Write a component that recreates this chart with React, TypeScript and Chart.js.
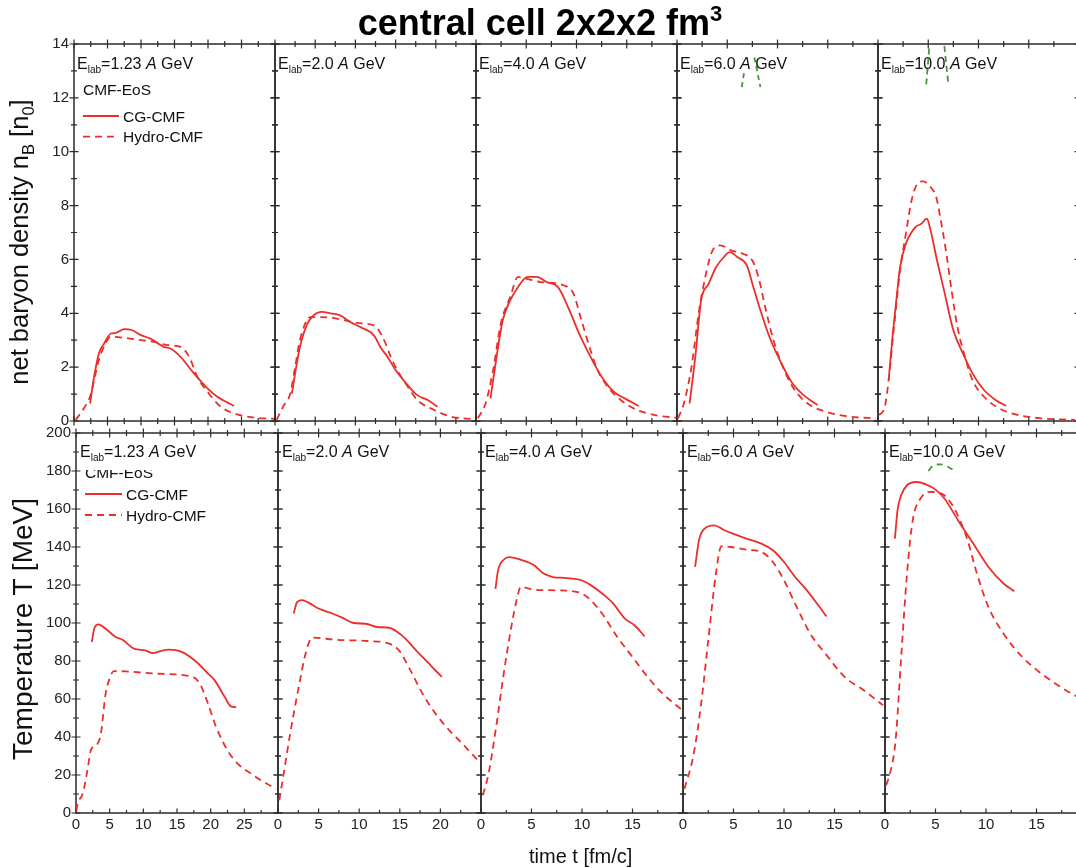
import React, { useEffect, useRef } from 'react';
import { Chart, registerables } from 'chart.js';

Chart.register(...registerables);

type Pt = [number, number];

const FONT = "'Liberation Sans', Arial, Helvetica, sans-serif";
const RED = 'rgb(236, 46, 42)';
const GREEN = 'rgb(70, 150, 60)';
const AXIS = '#2b2b2b';

// ---------- data ----------
const ENERGIES = ['1.23', '2.0', '4.0', '6.0', '10.0'];
const X_MAX = [30, 25, 20, 20, 20];
const X_MAJOR = [
  [0, 5, 10, 15, 20, 25],
  [0, 5, 10, 15, 20],
  [0, 5, 10, 15],
  [0, 5, 10, 15],
  [0, 5, 10, 15],
];
const X_MINOR = [
  [2.5, 7.5, 12.5, 17.5, 22.5, 27.5],
  [2.5, 7.5, 12.5, 17.5, 22.5],
  [2.5, 7.5, 12.5, 17.5],
  [2.5, 7.5, 12.5, 17.5],
  [2.5, 7.5, 12.5, 17.5],
];
const NB_MAX = 14;
const NB_MAJOR = [0, 2, 4, 6, 8, 10, 12, 14];
const NB_MINOR = [1, 3, 5, 7, 9, 11, 13];
const T_MAX = 200;
const T_MAJOR = [0, 20, 40, 60, 80, 100, 120, 140, 160, 180, 200];
const T_MINOR = [10, 30, 50, 70, 90, 110, 130, 150, 170, 190];

// net baryon density (n_B / n_0), CG-CMF (solid) and Hydro-CMF (dashed)
const NB_CG_123: Pt[] = [[2.4, 0.65], [3.0, 1.64], [3.7, 2.5], [4.5, 2.88], [5.5, 3.25], [6.2, 3.27], [7.5, 3.41], [8.7, 3.37], [10, 3.19], [11.4, 3.06], [13.4, 2.75], [14.4, 2.69], [15.9, 2.38], [17.9, 1.77], [19.7, 1.27], [21.4, 0.9], [23.9, 0.56]];
const NB_HY_123: Pt[] = [[0.25, 0.04], [1.5, 0.48], [2.4, 0.91], [3.0, 1.52], [3.7, 2.26], [4.7, 2.88], [5.5, 3.13], [7.5, 3.09], [10, 3.0], [11.9, 2.94], [13.9, 2.82], [15.9, 2.75], [17.2, 2.38], [18.4, 1.64], [19.9, 1.09], [21.9, 0.53], [23.9, 0.28], [26.4, 0.14], [29.9, 0.08]];
const NB_CG_20: Pt[] = [[2.1, 1.02], [2.5, 1.76], [3.1, 2.75], [4.0, 3.6], [4.8, 3.92], [5.8, 4.05], [6.9, 4.0], [8.1, 3.92], [9.4, 3.67], [10.6, 3.49], [12.3, 3.18], [13.1, 2.75], [14.0, 2.38], [15, 1.89], [16.5, 1.33], [17.7, 0.96], [19, 0.78], [20.2, 0.53]];
const NB_HY_20: Pt[] = [[0.2, 0.04], [1.0, 0.53], [1.9, 1.02], [2.5, 2.0], [3.1, 3.0], [4.4, 3.86], [5.6, 3.86], [7.7, 3.8], [10.2, 3.64], [12.3, 3.55], [12.9, 3.37], [13.75, 2.88], [14.4, 2.38], [15.2, 1.89], [16.5, 1.28], [17.7, 0.78], [19.8, 0.41], [21.9, 0.16], [24.8, 0.07]];
const NB_CG_40: Pt[] = [[1.44, 0.84], [1.9, 2.01], [2.66, 3.74], [3.4, 4.48], [4.17, 4.97], [5.12, 5.35], [6.07, 5.35], [7.0, 5.16], [8.16, 4.97], [9.3, 4.11], [10.25, 3.25], [11.4, 2.38], [12.5, 1.64], [13.7, 1.09], [14.8, 0.84], [16.2, 0.56]];
const NB_HY_40: Pt[] = [[0.19, 0.1], [0.95, 0.65], [1.7, 1.89], [2.47, 3.62], [3.4, 4.6], [4.17, 5.35], [4.93, 5.29], [6.45, 5.16], [8.7, 5.04], [9.7, 4.73], [10.4, 3.86], [11.4, 2.62], [12.1, 1.89], [13.1, 1.27], [14.4, 0.78], [15.9, 0.43], [17.8, 0.22], [20, 0.12]];
const NB_CG_60: Pt[] = [[1.25, 0.65], [1.82, 2.38], [2.4, 4.48], [3.15, 5.1], [3.9, 5.72], [4.67, 6.09], [5.24, 6.27], [6.0, 6.09], [6.95, 5.78], [7.5, 5.1], [8.3, 4.11], [9.2, 3.12], [10.4, 2.13], [11.5, 1.39], [12.6, 0.96], [14.0, 0.59]];
const NB_HY_60: Pt[] = [[0.1, 0.1], [0.68, 0.65], [1.44, 2.0], [2.2, 4.11], [2.96, 5.59], [3.53, 6.33], [4.3, 6.52], [5.43, 6.33], [6.57, 6.21], [7.5, 5.96], [8.1, 5.35], [8.85, 4.11], [9.6, 3.0], [10.4, 2.13], [11.5, 1.27], [13, 0.65], [14.9, 0.34], [17.2, 0.16], [19.8, 0.1]];
const NB_CG_100: Pt[] = [[1.06, 1.52], [1.44, 3.12], [1.82, 4.48], [2.2, 5.72], [2.77, 6.58], [3.72, 7.2], [4.29, 7.32], [4.86, 7.51], [5.24, 7.07], [5.8, 6.09], [6.57, 4.85], [7.5, 3.37], [8.46, 2.5], [9.4, 1.77], [10.55, 1.15], [11.7, 0.78], [12.75, 0.56]];
const NB_HY_100: Pt[] = [[0.1, 0.22], [0.68, 0.53], [1.06, 1.52], [1.63, 3.62], [2.2, 5.6], [2.77, 6.95], [3.34, 8.19], [3.9, 8.8], [4.48, 8.9], [5.24, 8.68], [5.8, 8.31], [6.19, 7.57], [6.76, 6.33], [7.32, 4.85], [7.9, 3.5], [8.65, 2.38], [9.4, 1.52], [10.55, 0.9], [12.07, 0.47], [13.97, 0.22], [16.2, 0.1], [19.6, 0.04]];
// partly hidden green curves
const NB_GR_60A: Pt[] = [[6.45, 12.4], [6.7, 13.0]];
const NB_GR_60B: Pt[] = [[7.7, 13.5], [8.3, 12.4]];
const NB_GR_100A: Pt[] = [[4.8, 12.5], [5.2, 14.3]];
const NB_GR_100B: Pt[] = [[6.5, 14.3], [7.0, 12.5]];

// temperature (MeV)
const T_CG_123: Pt[] = [[2.35, 90], [2.7, 97], [3.33, 99.3], [4.4, 97], [5.9, 92.6], [6.9, 91.2], [8.6, 86.5], [10.3, 85.6], [11.3, 84.2], [12.7, 85.3], [13.7, 86], [15.7, 84.8], [17.9, 79.5], [19.6, 73.4], [20.6, 69.8], [22.1, 61], [23.0, 56.1], [23.8, 55.7]];
const T_HY_123: Pt[] = [[0.05, 1], [0.25, 4.9], [1.0, 10.2], [1.7, 22.5], [2.2, 33], [3.2, 36.5], [3.7, 41.8], [4.4, 62.8], [4.9, 69.8], [5.6, 74.7], [7.35, 74.5], [12.3, 73.3], [17.4, 71.6], [18.4, 68], [19.6, 57.6], [20.8, 45.3], [22.5, 33], [24, 26], [26, 20.7], [27.9, 16.3], [29.7, 12.8]];
const T_CG_20: Pt[] = [[1.93, 105], [2.35, 111], [2.96, 112], [3.8, 110.6], [5.0, 107.6], [6.7, 105], [7.9, 102.8], [9.3, 100], [10.8, 99.6], [12.2, 97.9], [13.7, 97.5], [14.7, 95.3], [15.7, 91.8], [17.0, 85.6], [18.4, 79.5], [19.4, 75], [20.2, 71.6]];
const T_HY_20: Pt[] = [[0.16, 6.7], [0.7, 20.7], [1.5, 41.8], [2.55, 66.3], [3.4, 83.9], [4.2, 92.3], [7.1, 91.2], [11.2, 90.5], [13.7, 89.1], [14.9, 85.6], [16.1, 76.8], [17.8, 62.8], [19.4, 52.3], [21.1, 43.5], [22.7, 36.5], [24.8, 26.8]];
const T_CG_40: Pt[] = [[1.43, 118], [1.69, 127.7], [2.25, 133.3], [2.8, 134.7], [4.1, 133], [5.25, 130.4], [6.2, 126], [7.1, 124.2], [8.25, 123.7], [9.94, 122.5], [10.9, 119.8], [12.0, 115.5], [13.1, 110.2], [14.25, 102.3], [15.2, 98.8], [16.2, 93]];
const T_HY_40: Pt[] = [[0.19, 9.3], [0.75, 20.7], [1.5, 45.3], [2.25, 73.4], [3.0, 97.9], [3.56, 112.8], [3.94, 119], [5.25, 117.5], [7.5, 117.2], [9.56, 116.3], [10.5, 113.7], [12.0, 104.9], [13.5, 92.6], [15.0, 82.1], [16.5, 71.6], [18.0, 62.8], [19.95, 54]];
const T_CG_60: Pt[] = [[1.2, 129.5], [1.58, 143.5], [2.14, 149.7], [3.08, 151.4], [4.0, 149.1], [4.95, 147], [6.26, 144.4], [7.76, 141.8], [8.9, 138.3], [10.0, 132.1], [11.1, 124.2], [12.27, 117.2], [13.4, 109.3], [14.2, 103.5]];
const T_HY_60: Pt[] = [[0.15, 12.8], [1.0, 29.5], [1.76, 55.8], [2.5, 90.9], [3.26, 126], [3.8, 140.4], [4.76, 140], [6.26, 138.6], [7.76, 137.4], [8.9, 132.1], [10.0, 122.5], [11.1, 110.2], [12.6, 94.4], [14.1, 83.9], [16.0, 71.6], [17.9, 64.6], [19.8, 56.7]];
const T_CG_100: Pt[] = [[0.98, 144.4], [1.24, 159.3], [1.6, 167.2], [2.18, 172.5], [3.1, 174.2], [4.05, 173], [5.0, 170.2], [5.9, 165.4], [7.24, 154], [8.74, 141.8], [10.24, 129.5], [11.74, 120.8], [12.8, 116.7]];
const T_HY_100: Pt[] = [[0.11, 14.6], [0.49, 20.7], [1.05, 38.3], [1.6, 82.1], [2.18, 126], [2.74, 154], [3.5, 165.4], [4.43, 169], [5.74, 167.7], [6.68, 162], [7.43, 154], [8.18, 143.5], [9.1, 126], [10.24, 108.4], [11.74, 94.4], [13.6, 82.1], [15.5, 73.3], [17.4, 66.3], [18.8, 61.9], [20, 59]];
const T_GR_100: Pt[] = [[4.3, 180], [4.8, 183], [5.5, 183.5], [6.3, 182], [6.9, 180]];

// ---------- layout ----------
const TOP_LEFTS = [74, 275, 476, 677, 878];
const TOP_WIDTHS = [201, 201, 201, 201, 201];
const TOP_Y = 44;
const TOP_H = 377;
const BOT_LEFTS = [76, 278, 481, 683, 885];
const BOT_WIDTHS = [202, 203, 202, 202, 202];
const BOT_Y = 433;
const BOT_H = 380;

const M = 14;
const Y_AXIS_W = 50;
const X_AXIS_H = 26;
const DASH = [7, 5];

interface SeriesDef { pts: Pt[]; color: string; dash?: number[] }
interface PanelProps {
  left: number; top: number; width: number; height: number;
  firstCol: boolean; bottomRow: boolean;
  xMax: number; xMajor: number[]; xMinor: number[];
  yMax: number; yMajor: number[]; yMinor: number[];
  series: SeriesDef[];
}

function Panel(p: PanelProps) {
  const ref = useRef<HTMLCanvasElement>(null);
  const padL = p.firstCol ? Y_AXIS_W : M;
  const padB = p.bottomRow ? X_AXIS_H : M;
  const cw = p.width + padL + M;
  const ch = p.height + M + padB;

  useEffect(() => {
    const canvas = ref.current;
    if (!canvas) return;
    const framePlugin = {
      id: 'frame',
      beforeDatasetsDraw(chart: any) {
        const { ctx, chartArea: a, scales } = chart;
        const xs = scales.x;
        const ys = scales.y;
        ctx.save();
        ctx.strokeStyle = AXIS;
        ctx.lineWidth = 1.5;
        ctx.strokeRect(a.left, a.top, a.right - a.left, a.bottom - a.top);
        ctx.lineWidth = 1.2;
        ctx.beginPath();
        const xt = (vals: number[], len: number) => vals.forEach((v) => {
          const px = xs.getPixelForValue(v);
          ctx.moveTo(px, a.top - len); ctx.lineTo(px, a.top + len);
          ctx.moveTo(px, a.bottom - len); ctx.lineTo(px, p.bottomRow ? a.bottom : a.bottom + len);
        });
        const yt = (vals: number[], len: number) => vals.forEach((v) => {
          const py = ys.getPixelForValue(v);
          ctx.moveTo(a.left - len, py); ctx.lineTo(a.left + len, py);
          ctx.moveTo(a.right - len, py); ctx.lineTo(a.right + len, py);
        });
        xt(p.xMajor, 4.5); xt(p.xMinor, 3);
        yt(p.yMajor, 4.5); yt(p.yMinor, 3);
        ctx.stroke();
        ctx.restore();
      },
    };
    const tickFont = { family: FONT, size: 15 };
    const chart = new Chart(canvas, {
      type: 'line',
      data: {
        datasets: p.series.map((s) => ({
          data: s.pts.map(([x, y]) => ({ x, y })),
          borderColor: s.color,
          borderWidth: 1.8,
          borderDash: s.dash || [],
          pointRadius: 0,
          fill: false,
          cubicInterpolationMode: 'monotone' as const,
        })),
      },
      options: {
        animation: false,
        responsive: false,
        maintainAspectRatio: false,
        events: [],
        layout: { padding: { left: p.firstCol ? 0 : M, right: M, top: M, bottom: p.bottomRow ? 0 : M } },
        plugins: { legend: { display: false }, tooltip: { enabled: false } },
        scales: {
          x: {
            type: 'linear', min: 0, max: p.xMax, display: p.bottomRow,
            grid: { display: false, drawTicks: false },
            border: { display: false },
            ticks: { font: tickFont, color: '#222', padding: 3, maxRotation: 0, autoSkip: false, callback: (v: any) => String(v) },
            afterBuildTicks: (s: any) => { s.ticks = p.xMajor.map((v) => ({ value: v })); },
            afterFit: (s: any) => { s.height = p.bottomRow ? X_AXIS_H : 0; },
          },
          y: {
            type: 'linear', min: 0, max: p.yMax, display: p.firstCol,
            grid: { display: false, drawTicks: false },
            border: { display: false },
            ticks: { font: tickFont, color: '#222', padding: 5, autoSkip: false, callback: (v: any) => String(v) },
            afterBuildTicks: (s: any) => { s.ticks = p.yMajor.map((v) => ({ value: v })); },
            afterFit: (s: any) => { s.width = p.firstCol ? Y_AXIS_W : 0; },
          },
        },
      } as any,
      plugins: [framePlugin],
    });
    return () => chart.destroy();
  }, []);

  return (
    <canvas
      ref={ref}
      width={cw}
      height={ch}
      style={{ position: 'absolute', left: p.left - padL, top: p.top - M, width: cw, height: ch }}
    />
  );
}

const ASC = 0.8465; // baseline offset for line-height 1em (Arial metrics)

function Txt({ x, base, size, children, bold, italic }: any) {
  return (
    <div style={{
      position: 'absolute', left: x, top: base - ASC * size, fontFamily: FONT, fontSize: size,
      lineHeight: `${size}px`, whiteSpace: 'nowrap', color: '#111', fontWeight: bold ? 'bold' : 'normal',
      fontStyle: italic ? 'italic' : 'normal',
    }}>{children}</div>
  );
}

function Elab({ x, base, e }: { x: number; base: number; e: string }) {
  return (
    <Txt x={x} base={base} size={16}>
      E<span style={{ fontSize: 10, position: 'relative', top: 4 }}>lab</span>={e} <i>A</i> GeV
    </Txt>
  );
}

function ClippedTxt({ x, base, size, clipTop, children }: any) {
  const textTop = base - ASC * size;
  return (
    <div style={{ position: 'absolute', left: x, top: clipTop, height: base + 5 - clipTop, overflow: 'hidden' }}>
      <div style={{ position: 'relative', top: textTop - clipTop, fontFamily: FONT, fontSize: size, lineHeight: `${size}px`, whiteSpace: 'nowrap', color: '#111' }}>
        {children}
      </div>
    </div>
  );
}

function RotTxt({ cx, cy, size, children }: any) {
  return (
    <div style={{
      position: 'absolute', left: cx, top: cy, transform: 'translate(-50%, -50%) rotate(-90deg)',
      fontFamily: FONT, fontSize: size, whiteSpace: 'nowrap', color: '#111', lineHeight: `${size * 1.2}px`,
    }}>{children}</div>
  );
}

const TOP_SERIES: SeriesDef[][] = [
  [{ pts: NB_CG_123, color: RED }, { pts: NB_HY_123, color: RED, dash: DASH }],
  [{ pts: NB_CG_20, color: RED }, { pts: NB_HY_20, color: RED, dash: DASH }],
  [{ pts: NB_CG_40, color: RED }, { pts: NB_HY_40, color: RED, dash: DASH }],
  [{ pts: NB_CG_60, color: RED }, { pts: NB_HY_60, color: RED, dash: DASH },
    { pts: NB_GR_60A, color: GREEN, dash: [5, 4] }, { pts: NB_GR_60B, color: GREEN, dash: [5, 4] }],
  [{ pts: NB_CG_100, color: RED }, { pts: NB_HY_100, color: RED, dash: DASH },
    { pts: NB_GR_100A, color: GREEN, dash: [6, 4] }, { pts: NB_GR_100B, color: GREEN, dash: [6, 4] }],
];
const BOT_SERIES: SeriesDef[][] = [
  [{ pts: T_CG_123, color: RED }, { pts: T_HY_123, color: RED, dash: DASH }],
  [{ pts: T_CG_20, color: RED }, { pts: T_HY_20, color: RED, dash: DASH }],
  [{ pts: T_CG_40, color: RED }, { pts: T_HY_40, color: RED, dash: DASH }],
  [{ pts: T_CG_60, color: RED }, { pts: T_HY_60, color: RED, dash: DASH }],
  [{ pts: T_CG_100, color: RED }, { pts: T_HY_100, color: RED, dash: DASH },
    { pts: T_GR_100, color: GREEN, dash: [6, 5] }],
];

export default function App() {
  return (
    <div style={{ position: 'absolute', left: 0, top: 0, width: 1076, height: 868, overflow: 'hidden', background: '#fff' }}>
      {TOP_LEFTS.map((l, i) => (
        <Panel key={'t' + i} left={l} top={TOP_Y} width={TOP_WIDTHS[i]} height={TOP_H}
          firstCol={i === 0} bottomRow={false}
          xMax={X_MAX[i]} xMajor={X_MAJOR[i]} xMinor={X_MINOR[i]}
          yMax={NB_MAX} yMajor={NB_MAJOR} yMinor={NB_MINOR} series={TOP_SERIES[i]} />
      ))}
      {BOT_LEFTS.map((l, i) => (
        <Panel key={'b' + i} left={l} top={BOT_Y} width={BOT_WIDTHS[i]} height={BOT_H}
          firstCol={i === 0} bottomRow={true}
          xMax={X_MAX[i]} xMajor={X_MAJOR[i]} xMinor={X_MINOR[i]}
          yMax={T_MAX} yMajor={T_MAJOR} yMinor={T_MINOR} series={BOT_SERIES[i]} />
      ))}

      {/* title */}
      <div style={{ position: 'absolute', left: 0, width: 1080, top: 35 - ASC * 36, textAlign: 'center', fontFamily: FONT, fontWeight: 'bold', fontSize: 36, lineHeight: '36px', color: '#000' }}>
        central cell 2x2x2 fm<span style={{ fontSize: 22, position: 'relative', top: -14 }}>3</span>
      </div>

      {/* energy labels */}
      {TOP_LEFTS.map((l, i) => <Elab key={'et' + i} x={l + 3} base={70} e={ENERGIES[i]} />)}
      {BOT_LEFTS.map((l, i) => <Elab key={'eb' + i} x={l + 4} base={458} e={ENERGIES[i]} />)}

      {/* legends */}
      <svg width={1076} height={868} style={{ position: 'absolute', left: 0, top: 0, pointerEvents: 'none' }}>
        <line x1={83} y1={116} x2={119} y2={116} stroke={RED} strokeWidth={1.8} />
        <line x1={83} y1={136.7} x2={119} y2={136.7} stroke={RED} strokeWidth={1.8} strokeDasharray="7 5" />
        <line x1={85} y1={494} x2={122} y2={494} stroke={RED} strokeWidth={1.8} />
        <line x1={85} y1={515} x2={122} y2={515} stroke={RED} strokeWidth={1.8} strokeDasharray="7 5" />
      </svg>
      <ClippedTxt x={83} base={95} size={15.5} clipTop={85}>CMF-EoS</ClippedTxt>
      <Txt x={123} base={121.7} size={15.5}>CG-CMF</Txt>
      <Txt x={123} base={142.4} size={15.5}>Hydro-CMF</Txt>
      <ClippedTxt x={85} base={478} size={15.5} clipTop={470}>CMF-EoS</ClippedTxt>
      <Txt x={126} base={499.7} size={15.5}>CG-CMF</Txt>
      <Txt x={126} base={520.7} size={15.5}>Hydro-CMF</Txt>

      {/* axis titles */}
      <RotTxt cx={24} cy={242} size={25.5}>
        net baryon density n<sub style={{ fontSize: '0.65em' }}>B</sub> [n<sub style={{ fontSize: '0.65em' }}>0</sub>]
      </RotTxt>
      <RotTxt cx={23} cy={629} size={28}>Temperature T [MeV]</RotTxt>
      <Txt x={582 - 53} base={863.3} size={20}>time t [fm/c]</Txt>
    </div>
  );
}
